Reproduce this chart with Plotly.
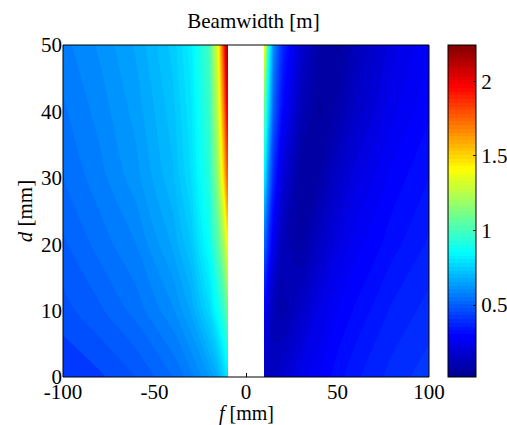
import plotly.graph_objects as go

# ---- data ----
d_vals = [0, 10, 20, 30, 40, 50]

f_left = [-100, -80, -60, -40, -30, -20, -15, -12, -10]
bw_left = [
    [0.43, 0.45, 0.48, 0.53, 0.57, 0.63, 0.68, 0.75, 0.80],
    [0.47, 0.50, 0.54, 0.60, 0.66, 0.77, 0.88, 0.97, 1.10],
    [0.50, 0.54, 0.58, 0.66, 0.73, 0.87, 1.05, 1.22, 1.42],
    [0.53, 0.57, 0.62, 0.70, 0.78, 0.93, 1.20, 1.50, 1.80],
    [0.55, 0.59, 0.64, 0.72, 0.80, 0.97, 1.30, 1.70, 2.05],
    [0.57, 0.61, 0.66, 0.74, 0.82, 1.00, 1.40, 1.88, 2.22],
]

f_right = [10, 12, 15, 20, 30, 40, 50, 60, 80, 100]
bw_right = [
    [0.15, 0.13, 0.14, 0.18, 0.24, 0.28, 0.32, 0.35, 0.39, 0.42],
    [0.30, 0.20, 0.12, 0.09, 0.16, 0.23, 0.28, 0.31, 0.36, 0.39],
    [0.55, 0.40, 0.25, 0.12, 0.07, 0.15, 0.22, 0.27, 0.32, 0.36],
    [0.85, 0.60, 0.38, 0.20, 0.06, 0.08, 0.16, 0.22, 0.29, 0.33],
    [1.10, 0.80, 0.50, 0.30, 0.12, 0.05, 0.09, 0.16, 0.25, 0.30],
    [1.45, 0.95, 0.60, 0.38, 0.18, 0.08, 0.05, 0.12, 0.22, 0.28],
]

x_ticks = [-100, -50, 0, 50, 100]
y_ticks = [0, 10, 20, 30, 40, 50]
cb_ticks = [0.5, 1, 1.5, 2]
c_min, c_max = 0.03, 2.24

jet = [
    [0.0, "rgb(0,0,143)"],
    [0.125, "rgb(0,0,255)"],
    [0.375, "rgb(0,255,255)"],
    [0.625, "rgb(255,255,0)"],
    [0.875, "rgb(255,0,0)"],
    [1.0, "rgb(128,0,0)"],
]

FONT = "Liberation Serif"
FS = 21

contour_style = dict(
    coloraxis="coloraxis",
    contours=dict(coloring="fill", start=c_min, end=c_max, size=0.025, showlines=False),
    line=dict(width=0),
    showscale=False,
)

fig = go.Figure()
fig.add_trace(go.Contour(x=f_left, y=d_vals, z=bw_left, **contour_style))
fig.add_trace(go.Contour(x=f_right, y=d_vals, z=bw_right, **contour_style))

fig.update_layout(
    width=507, height=425,
    margin=dict(l=63, r=78, t=45, b=48, autoexpand=False),
    paper_bgcolor="white", plot_bgcolor="white",
    font=dict(family=FONT, size=FS, color="black"),
    title=dict(text="Beamwidth [m]", x=0.5, xanchor="center", y=1 - 21 / 425, yanchor="middle",
               font=dict(family=FONT, size=FS)),
    coloraxis=dict(
        colorscale=jet, cmin=c_min, cmax=c_max,
        colorbar=dict(
            x=(448 - 63) / 366, xanchor="left", xpad=0, y=0.5, yanchor="middle", ypad=0,
            len=1, lenmode="fraction", thickness=28, thicknessmode="pixels",
            outlinewidth=1, outlinecolor="black",
            tickvals=cb_ticks, ticktext=["0.5", "1", "1.5", "2"],
            ticks="inside", ticklen=3, tickcolor="black",
            tickfont=dict(family=FONT, size=FS),
        ),
    ),
    xaxis=dict(
        range=[-100, 100], tickvals=x_ticks, ticktext=[str(v) for v in x_ticks],
        ticks="inside", ticklen=4, tickcolor="black", layer="below traces",
        showgrid=False, zeroline=False, showline=False,
        tickfont=dict(family=FONT, size=FS),
    ),
    yaxis=dict(
        range=[0, 50], tickvals=y_ticks, ticktext=[str(v) for v in y_ticks],
        ticks="inside", ticklen=4, tickcolor="black", layer="below traces",
        showgrid=False, zeroline=False, showline=False,
        tickfont=dict(family=FONT, size=FS),
        title=dict(text="<i>d</i> [mm]", standoff=2, font=dict(family=FONT, size=FS)),
    ),
    annotations=[dict(text="<i>f</i> [mm]", xref="paper", yref="paper", x=0.5, y=-(413.5 - 377) / 332,
                      xanchor="center", yanchor="middle", showarrow=False,
                      font=dict(family=FONT, size=20))],
    shapes=[dict(type="rect", xref="x domain", yref="y domain", x0=0, x1=1, y0=0, y1=1,
                 line=dict(color="black", width=1), layer="above")],
)

fig.write_html("out.html")
